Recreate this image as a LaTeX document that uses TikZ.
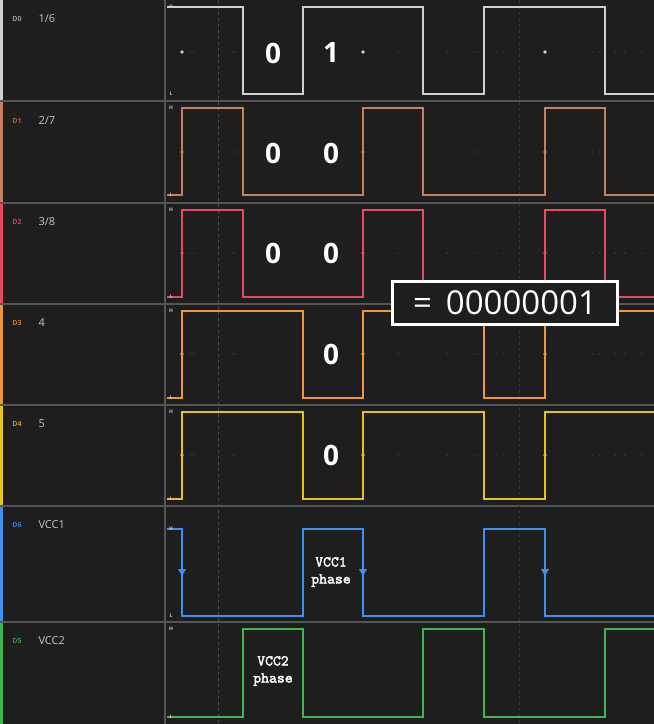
\documentclass[tikz,border=0pt]{standalone}
\usepackage{fontspec}
\setmainfont{Open Sans}
\newfontfamily\phasefont[FakeBold=2.2]{lmmono10-regular.otf}
\usetikzlibrary{positioning}

\definecolor{bg}{HTML}{1E1E1E}
\definecolor{sepgrey}{HTML}{555555}
\definecolor{dashgrey}{HTML}{4E4E4E}
\definecolor{faintgrey}{HTML}{363636}
\definecolor{namegrey}{HTML}{C8C8C8}
\definecolor{dotgrey}{HTML}{5E5E5E}
\definecolor{c0}{HTML}{D0D0D0}
\definecolor{c1}{HTML}{C8805E}
\definecolor{c2}{HTML}{E84A5F}
\definecolor{c3}{HTML}{F0963C}
\definecolor{c4}{HTML}{E6C41E}
\definecolor{c6}{HTML}{3F8FEF}
\definecolor{c5}{HTML}{40B650}
\definecolor{id0}{HTML}{9A9A9A}
\definecolor{id1}{HTML}{A86448}
\definecolor{id2}{HTML}{C84455}
\definecolor{id3}{HTML}{C47A30}
\definecolor{id4}{HTML}{B4A024}
\definecolor{id6}{HTML}{3A78C8}
\definecolor{id5}{HTML}{38964A}

\begin{document}
\begin{tikzpicture}[x=1pt, y=-1pt,
  sep/.style={draw=sepgrey, line width=2pt},
  wave/.style={line width=1.4pt, preaction={draw=black, line width=2.8pt}},
  bit/.style={text=white, font=\bfseries\fontsize{28}{28}\selectfont},
  chname/.style={anchor=west, text=namegrey, font=\fontsize{11}{11}\selectfont},
  chid/.style={text=#1, font=\bfseries\fontsize{7}{7}\selectfont},
  hl/.style={text=namegrey, font=\bfseries\fontsize{5}{5}\selectfont, inner sep=0pt},
  phase/.style={text=white, align=center, font=\phasefont\fontsize{15}{17}\selectfont},
  valbox/.style={draw=white, line width=2.6pt, fill=bg, minimum width=225pt,
    minimum height=43pt, text=white, font=\fontsize{33}{33}\selectfont}]
  \useasboundingbox (0,0) rectangle (654,724);
  \fill[bg] (0,0) rectangle (654,724);

  % channel rows
  \foreach \top/\bot/\col in {0/101/c0, 101/203/c1, 203/304/c2, 304/405/c3,
                              405/506/c4, 506/622/c6, 622/724/c5}
    \fill[\col] (0,\top) rectangle (3,\bot);
  \foreach \y in {101,203,304,405,506,622}
    \draw[sep] (0,\y) -- (654,\y);
  \draw[draw=sepgrey, line width=1.5pt] (165,0) -- (165,724);
  \draw[dashgrey, dashed, line width=0.8pt] (218,0) -- (218,724);
  \draw[faintgrey, dashed, line width=0.6pt] (519,0) -- (519,724);

  % channel labels
  \foreach \i/\y/\lab/\nam in {0/19/D0/1\slash 6, 1/121/D1/2\slash 7, 2/222/D2/3\slash 8,
                               3/323/D3/4, 4/424/D4/5, 6/525/D6/VCC1, 5/641/D5/VCC2} {
    \node[chid=id\i] (id\i) at (17,\y) {\lab};
    \node[chname] (name\i) at (35,\y) {\nam};
  }

  % sample dots
  \foreach \y in {52,152,253,354,455}
    \foreach \x in {190,194,232,235,398,408,447,456,472,476,496,504,528,593,600,615,625,642}
      \fill[dotgrey] (\x,\y) circle (0.7);
  \foreach \y/\col in {52/c0, 152/c1, 253/c2, 354/c3, 455/c4}
    \foreach \x in {182,363,545}
      \fill[\col] (\x,\y) circle (1.8);

  % waveforms
  \draw[wave, c0] (167,7) -| (243,94) -| (303,7) -| (423,94) -| (484,7) -| (605,94) -- (656,94);
  \draw[wave, c1] (167,195) -| (182,108) -| (243,195) -| (363,108) -| (423,195) -| (545,108) -| (605,195) -- (656,195);
  \draw[wave, c2] (167,297) -| (182,210) -| (243,297) -| (363,210) -| (423,297) -| (545,210) -| (605,297) -- (656,297);
  \draw[wave, c3] (167,398) -| (182,311) -| (303,398) -| (363,311) -| (484,398) -| (545,311) -- (656,311);
  \draw[wave, c4] (167,499) -| (182,412) -| (303,499) -| (363,412) -| (484,499) -| (545,412) -- (656,412);
  \draw[wave, c6] (167,529) -| (182,616) -| (303,529) -| (363,616) -| (484,529) -| (545,616) -- (656,616);
  \draw[wave, c5] (167,717) -| (243,629) -| (303,717) -| (423,629) -| (484,717) -| (605,629) -- (656,629);
  \foreach \x in {182,363,545}
    \fill[c6] (\x-4,569) -- (\x+4,569) -- (\x,576) -- cycle;

  % H / L marks
  \foreach \i/\h/\l in {0/7/94, 1/108/195, 2/210/297, 3/311/398, 4/412/499, 6/529/616, 5/629/717} {
    \node[hl] (h\i) at (171,\h) {H};
    \node[hl] (l\i) at (171,\l) {L};
  }

  % bit values
  \node[bit] (b00) at (273,53) {0};
  \node[bit] (b01) at (331,53) {1};
  \node[bit] (b10) at (273,153) {0};
  \node[bit] (b11) at (331,153) {0};
  \node[bit] (b20) at (273,253) {0};
  \node[bit] (b21) at (331,253) {0};
  \node[bit] (b31) at (331,354) {0};
  \node[bit] (b41) at (331,455) {0};

  \node[valbox] (val) at (505,303) {=\hspace{14pt}00000001};

  \node[phase] (ph1) at (331,572) {VCC1\\phase};
  \node[phase] (ph2) at (273,671) {VCC2\\phase};
\end{tikzpicture}
\end{document}
